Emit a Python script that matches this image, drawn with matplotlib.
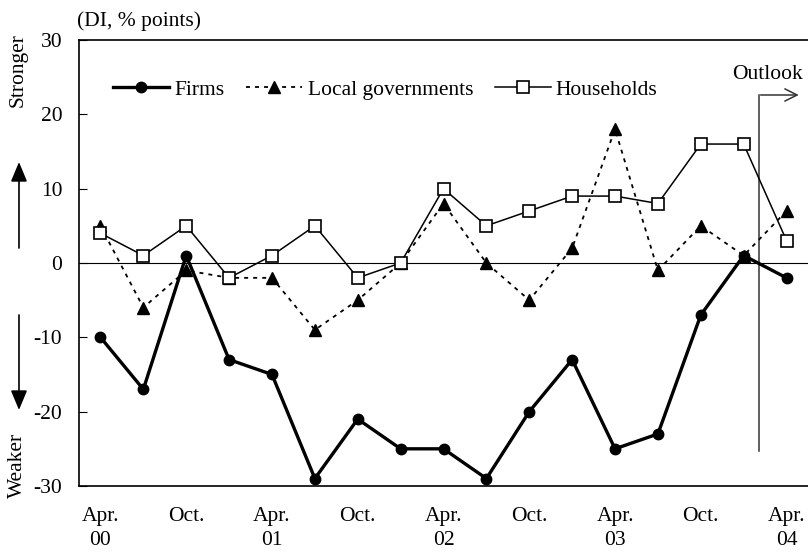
import numpy as np
import matplotlib.pyplot as plt

plt.rcParams['font.family'] = ['Liberation Serif', 'DejaVu Serif']
plt.rcParams['font.size'] = 15.5
plt.rcParams['axes.unicode_minus'] = False

# quarterly DI, Apr. 2000 - Apr. 2004 (last point = outlook)
firms = [-10, -17, 1, -13, -15, -29, -21, -25, -25, -29, -20, -13, -25, -23, -7, 1, -2]
local_gov = [5, -6, -1, -2, -2, -9, -5, 0, 8, 0, -5, 2, 18, -1, 5, 1, 7]
households = [4, 1, 5, -2, 1, 5, -2, 0, 10, 5, 7, 9, 9, 8, 16, 16, 3]
tick_labels = ['Apr.\n00', 'Oct.', 'Apr.\n01', 'Oct.', 'Apr.\n02', 'Oct.', 'Apr.\n03', 'Oct.', 'Apr.\n04']

x = np.arange(len(firms))

fig = plt.figure(figsize=(8.08, 5.53), dpi=100)
ax = fig.add_axes([0.0978, 0.1212, 0.9022, 0.8065])

ax.axhline(0, color='black', lw=0.8, zorder=1)
ax.plot(x, firms, '-o', color='black', lw=2.4, ms=7.5, label='Firms', zorder=4)
ax.plot(x, local_gov, '^', color='black', ls=(0, (2.2, 2.8)), lw=1.3, ms=8.5, label='Local governments', zorder=3)
ax.plot(x, households, '-s', color='black', lw=1.1, ms=9, mfc='white', mew=1.2, label='Households', zorder=3)

# outlook marker
xo = 15.35
ax.plot([xo, xo], [-25.3, 22.6], color='#333333', lw=1.1, zorder=2)
ax.annotate('', xy=(16.35, 22.6), xytext=(xo - 0.02, 22.6),
            arrowprops=dict(arrowstyle='->', color='#333333', lw=1.1, mutation_scale=22))
ax.text(15.55, 25.3, 'Outlook', ha='center', va='center')

ax.set_xlim(-0.5, 16.5)
ax.set_ylim(-30, 30)
ax.set_yticks(np.arange(-30, 31, 10))
ax.set_xticks(np.arange(0, 17, 2))
ax.set_xticklabels(tick_labels, linespacing=1.35, va='top')
ax.tick_params(axis='y', direction='in', length=6, pad=12)
ax.tick_params(axis='x', length=0, pad=15)
ax.spines['right'].set_visible(False)
for s in ['left', 'top', 'bottom']:
    ax.spines[s].set_linewidth(1.2)

ax.legend(loc='upper left', bbox_to_anchor=(0.035, 0.93), ncol=3, frameon=False,
          handlelength=2.6, handletextpad=0.25, columnspacing=1.0, borderaxespad=0)

fig.text(0.095, 0.962, '(DI, % points)', ha='left', va='center')
fig.text(0.022, 0.873, 'Stronger', rotation=90, ha='center', va='center')
fig.text(0.022, 0.159, 'Weaker', rotation=90, ha='center', va='center')
ax.annotate('', xy=(0.0235, 0.707), xytext=(0.0235, 0.5515), xycoords='figure fraction',
            arrowprops=dict(arrowstyle='-|>,head_length=0.6,head_width=0.25', color='black', lw=1.2,
                            mutation_scale=20, shrinkA=0, shrinkB=0))
ax.annotate('', xy=(0.0235, 0.2586), xytext=(0.0235, 0.4304), xycoords='figure fraction',
            arrowprops=dict(arrowstyle='-|>,head_length=0.6,head_width=0.25', color='black', lw=1.2,
                            mutation_scale=20, shrinkA=0, shrinkB=0))

fig.savefig('out.png', dpi=100)
